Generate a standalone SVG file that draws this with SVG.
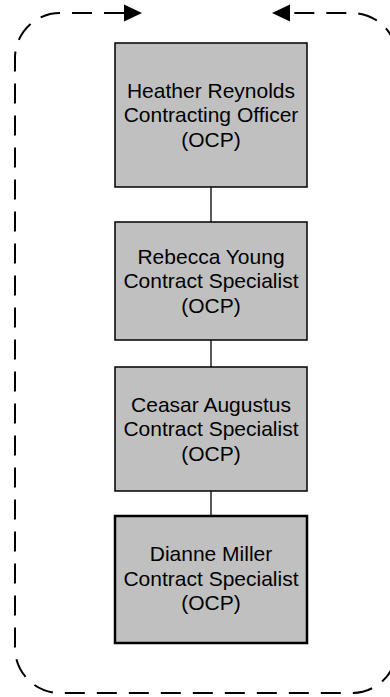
<svg xmlns="http://www.w3.org/2000/svg" width="390" height="697" viewBox="0 0 390 697">
<style>
.box{fill:#c0c0c0;stroke:#000;stroke-width:1.5}
.box4{stroke-width:2.5}
.lbl{font-family:"Liberation Sans",Arial,sans-serif;font-size:21px;fill:#000;text-anchor:middle}
.link{stroke:#000;stroke-width:1.3;fill:none}
.loop{stroke:#000;stroke-width:2;fill:none;stroke-dasharray:20 12}
</style>
<rect width="390" height="697" fill="#fff"/>
<g id="connectors">
<line class="link" x1="211" y1="187" x2="211" y2="222"/>
<line class="link" x1="211" y1="340" x2="211" y2="367"/>
<line class="link" x1="211" y1="491" x2="211" y2="516"/>
<path class="loop" d="M124,13 H60 A45,45 0 0 0 15,58 V648 A45,45 0 0 0 60,693 H352 A45,45 0 0 0 397,648 V58 A45,45 0 0 0 352,13 H290"/>
<polygon points="142,13 124,4.5 124,21.5" fill="#000"/>
<polygon points="272,13 290,4.5 290,21.5" fill="#000"/>
</g>
<g id="node1">
<rect class="box" x="115" y="43" width="192" height="144"/>
<text class="lbl" x="211" y="97.5">Heather Reynolds</text>
<text class="lbl" x="211" y="122">Contracting Officer</text>
<text class="lbl" x="211" y="146.5">(OCP)</text>
</g>
<g id="node2">
<rect class="box" x="115" y="222" width="192" height="118"/>
<text class="lbl" x="211" y="263.5">Rebecca Young</text>
<text class="lbl" x="211" y="288">Contract Specialist</text>
<text class="lbl" x="211" y="312.5">(OCP)</text>
</g>
<g id="node3">
<rect class="box" x="115" y="367" width="192" height="124"/>
<text class="lbl" x="211" y="411.5">Ceasar Augustus</text>
<text class="lbl" x="211" y="436">Contract Specialist</text>
<text class="lbl" x="211" y="460.5">(OCP)</text>
</g>
<g id="node4">
<rect class="box box4" x="115" y="516" width="192" height="127"/>
<text class="lbl" x="211" y="561">Dianne Miller</text>
<text class="lbl" x="211" y="585.5">Contract Specialist</text>
<text class="lbl" x="211" y="610">(OCP)</text>
</g>
</svg>
